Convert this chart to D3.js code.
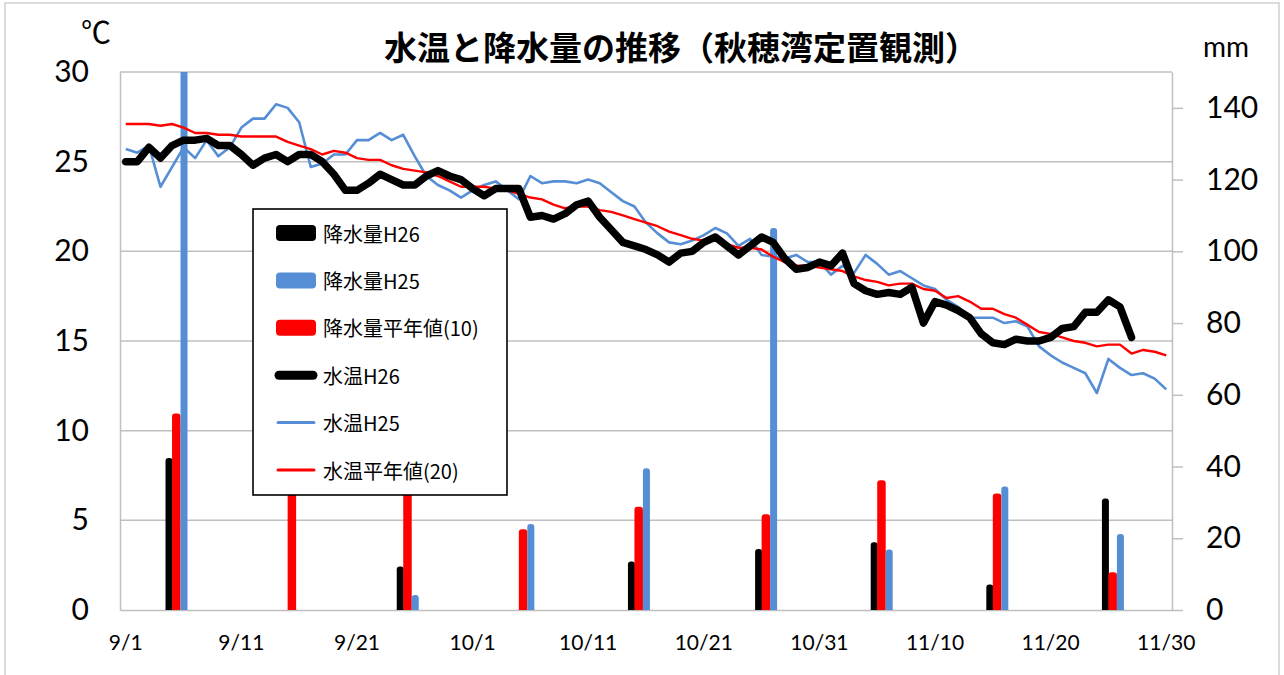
<!DOCTYPE html>
<html><head><meta charset="utf-8">
<script src="https://cdn.jsdelivr.net/npm/d3@7/dist/d3.min.js"></script>
<style>
body{margin:0;background:#fff;}
svg{display:block;}
</style></head>
<body><svg id="c" width="1284" height="675"></svg>
<script>
// ---- data ----
const monthLengths = [["9",30],["10",31],["11",30]];
const days = [];
monthLengths.forEach(([m,n]) => { for (let d = 1; d <= n; d++) days.push(m + "/" + d); });
const xTickLabels = ["9/1","9/11","9/21","10/1","10/11","10/21","10/31","11/10","11/20","11/30"];
const leftTicks = [0,5,10,15,20,25,30];
const rightTicks = [0,20,40,60,80,100,120,140];

// water temperature (°C), daily from 9/1
const tempH26 = [25.0,25.0,25.8,25.2,25.9,26.2,26.2,26.3,25.9,25.9,
 25.4,24.8,25.2,25.4,25.0,25.4,25.4,25.0,24.3,23.4,
 23.4,23.8,24.3,24.0,23.7,23.7,24.2,24.5,24.2,24.0,
 23.5,23.1,23.5,23.5,23.5,21.9,22.0,21.8,22.1,22.6,
 22.8,21.9,21.2,20.5,20.3,20.1,19.8,19.4,19.9,20.0,
 20.5,20.8,20.3,19.8,20.3,20.8,20.5,19.6,19.0,19.1,
 19.4,19.2,19.9,18.2,17.8,17.6,17.7,17.6,18.0,16.0,
 17.2,17.0,16.7,16.3,15.4,14.9,14.8,15.1,15.0,15.0,
 15.2,15.7,15.8,16.6,16.6,17.3,16.9,15.2];
const tempH25 = [25.7,25.5,25.9,23.6,24.7,25.8,25.2,26.2,25.3,25.8,
 26.9,27.4,27.4,28.2,28.0,27.2,24.7,24.9,25.4,25.4,
 26.2,26.2,26.6,26.2,26.5,25.3,24.2,23.7,23.4,23.0,
 23.4,23.7,23.9,23.4,22.9,24.2,23.8,23.9,23.9,23.8,
 24.0,23.8,23.3,22.8,22.5,21.6,21.0,20.5,20.4,20.6,
 20.9,21.3,21.0,20.3,20.7,19.8,19.7,19.6,19.8,19.4,
 19.4,18.7,19.2,18.8,19.8,19.3,18.7,18.9,18.5,18.1,
 17.9,17.3,16.9,16.3,16.3,16.3,16.0,16.1,15.8,14.7,
 14.2,13.8,13.5,13.2,12.1,14.0,13.5,13.1,13.2,12.9,
 12.3];
const tempAvg = [27.1,27.1,27.1,27.0,27.1,26.9,26.6,26.6,26.5,26.5,
 26.4,26.4,26.4,26.4,26.1,25.9,25.7,25.4,25.6,25.5,
 25.2,25.1,25.1,24.8,24.6,24.5,24.4,24.2,23.9,23.6,
 23.6,23.6,23.5,23.4,23.2,23.0,22.9,22.6,22.4,22.5,
 22.5,22.3,22.2,22.0,21.8,21.6,21.4,21.1,20.9,20.7,
 20.6,20.6,20.4,20.2,20.2,20.1,19.7,19.4,19.2,19.2,
 19.1,19.0,18.9,18.6,18.4,18.3,18.1,18.2,18.2,17.9,
 17.8,17.4,17.5,17.2,16.8,16.8,16.5,16.3,15.9,15.5,
 15.4,15.2,15.0,14.9,14.7,14.8,14.8,14.3,14.5,14.4,
 14.2];

// precipitation (mm) per 10-day period
const rainDates = ["9/5","9/15","9/25","10/5","10/15","10/26","11/5","11/15","11/25"];
const rainH26 = [42.4, 0, 12.1, 0, 13.5, 17.0, 18.9, 7.1, 31.1];
const rainH25 = [160, 0, 4.2, 24.0, 39.5, 106.5, 16.9, 34.4, 21.2];
const rainAvg = [54.8, 45, 40, 22.5, 28.8, 26.7, 36.2, 32.5, 10.5];

const legendItems = [
  {label:"降水量H26", color:"#000000", kind:"bar"},
  {label:"降水量H25", color:"#558ED5", kind:"bar"},
  {label:"降水量平年値(10)", color:"#FF0000", kind:"bar"},
  {label:"水温H26", color:"#000000", kind:"thick"},
  {label:"水温H25", color:"#558ED5", kind:"line"},
  {label:"水温平年値(20)", color:"#FF0000", kind:"line"}
];

// ---- drawing ----
const svg = d3.select("#c");
const L = 120, R = 1172, T = 72, B = 610;
const BLUE = "#558ED5", RED = "#FF0000", GRID = "#BFBFBF";
const NUM = "Lato, 'Open Sans', sans-serif";
const JP = "'Noto Sans CJK JP', 'Noto Sans', sans-serif";

svg.append("rect").attr("x",5).attr("y",3).attr("width",1274).attr("height",690)
  .attr("fill","#fff").attr("stroke","#cfcfcf").attr("stroke-width",1.5);

const x = d3.scaleBand().domain(days).range([L, R]).padding(0);
const cx = d => x(d) + x.bandwidth()/2;
const yL = d3.scaleLinear().domain([0,30]).range([B, T]);
const yR = d3.scaleLinear().domain([0,150]).range([B, T]);

// gridlines
svg.append("g").selectAll("line").data(leftTicks.filter(v => v > 0)).join("line")
  .attr("x1", L).attr("x2", R).attr("y1", d => yL(d)).attr("y2", d => yL(d))
  .attr("stroke", GRID).attr("stroke-width", 1.5);

// left axis
const gL = svg.append("g").attr("transform", `translate(${L},0)`)
  .call(d3.axisLeft(yL).tickValues(leftTicks).tickSize(0).tickPadding(31));
gL.select(".domain").attr("stroke", GRID).attr("stroke-width", 1.5);
gL.selectAll("text").attr("font-family", NUM).attr("font-size", 30).attr("fill", "#000");

// right axis
const gR = svg.append("g").attr("transform", `translate(${R},0)`)
  .call(d3.axisRight(yR).tickValues(rightTicks).tickSize(11).tickPadding(23).tickSizeOuter(0));
gR.select(".domain").attr("stroke", GRID).attr("stroke-width", 1.5);
gR.selectAll(".tick line").attr("stroke", GRID).attr("stroke-width", 1.5);
gR.selectAll("text").attr("font-family", NUM).attr("font-size", 30).attr("fill", "#000");

// bottom axis
const gB = svg.append("g").attr("transform", `translate(0,${B})`)
  .call(d3.axisBottom(x).tickValues(xTickLabels).tickSize(0).tickSizeOuter(0));
gB.select(".domain").attr("stroke", GRID).attr("stroke-width", 1.5);
gB.selectAll("text").attr("font-family", NUM).attr("font-size", 21).attr("fill", "#000")
  .attr("dy", null).attr("y", 31).attr("dominant-baseline", "central");

// clip
svg.append("clipPath").attr("id","plot").append("rect")
  .attr("x", L).attr("y", T).attr("width", R - L).attr("height", B - T);
const plot = svg.append("g").attr("clip-path","url(#plot)");

function barPath(x0, w, yTop, yBase, r) {
  r = Math.min(r, w/2, yBase - yTop);
  return `M${x0},${yBase}V${yTop + r}Q${x0},${yTop} ${x0 + r},${yTop}H${x0 + w - r}Q${x0 + w},${yTop} ${x0 + w},${yTop + r}V${yBase}Z`;
}
const barSeries = [
  {vals: rainH26, color: "#000", off: -6.5, w: 7},
  {vals: rainAvg, color: RED, off: 0, w: 8.5},
  {vals: rainH25, color: BLUE, off: 8.5, w: 7}
];
barSeries.forEach(s => {
  plot.append("g").selectAll("path")
    .data(rainDates.map((d, i) => ({d, v: s.vals[i]})).filter(o => o.v > 0))
    .join("path")
    .attr("d", o => barPath(cx(o.d) + s.off, s.w, yR(o.v), B, 3))
    .attr("fill", s.color);
});

// lines
const line = d3.line().x((v, i) => cx(days[i])).y(v => yL(v));
plot.append("path").datum(tempH25).attr("d", line).attr("fill","none")
  .attr("stroke", BLUE).attr("stroke-width", 2.6).attr("stroke-linejoin","round");
plot.append("path").datum(tempAvg).attr("d", line).attr("fill","none")
  .attr("stroke", RED).attr("stroke-width", 2.4).attr("stroke-linejoin","round");
svg.append("path").datum(tempH26).attr("d", line).attr("fill","none")
  .attr("stroke", "#000").attr("stroke-width", 7.5).attr("stroke-linejoin","round").attr("stroke-linecap","round");

// legend
const lg = svg.append("g");
lg.append("rect").attr("x", 253).attr("y", 209).attr("width", 254).attr("height", 286)
  .attr("fill", "#fff").attr("stroke", "#000").attr("stroke-width", 1.6);
legendItems.forEach((it, i) => {
  const yc = 233 + i * 47.4;
  if (it.kind === "bar") {
    lg.append("rect").attr("x", 276).attr("y", yc - 8).attr("width", 40).attr("height", 16)
      .attr("rx", 4).attr("fill", it.color);
  } else {
    lg.append("line").attr("x1", it.kind === "thick" ? 279 : 278).attr("x2", it.kind === "thick" ? 313 : 314)
      .attr("y1", yc).attr("y2", yc).attr("stroke", it.color)
      .attr("stroke-width", it.kind === "thick" ? 9 : 3).attr("stroke-linecap", "round");
  }
  lg.append("text").attr("x", 323).attr("y", yc).attr("dominant-baseline", "central")
    .attr("font-family", JP).attr("font-size", 20).attr("fill", "#000").text(it.label);
});

// title and units
svg.append("text").attr("x", 681).attr("y", 46).attr("text-anchor", "middle")
  .attr("dominant-baseline", "central").attr("font-family", JP).attr("font-weight", 700)
  .attr("font-size", 33).attr("fill", "#000").text("水温と降水量の推移（秋穂湾定置観測）");
svg.append("text").attr("x", 96).attr("y", 30).attr("text-anchor", "middle")
  .attr("dominant-baseline", "central").attr("font-family", JP)
  .attr("font-size", 30).attr("fill", "#000").text("℃");
svg.append("text").attr("x", 1226).attr("y", 46).attr("text-anchor", "middle")
  .attr("dominant-baseline", "central").attr("font-family", NUM)
  .attr("font-size", 28).attr("fill", "#000").text("mm");
</script></body></html>
